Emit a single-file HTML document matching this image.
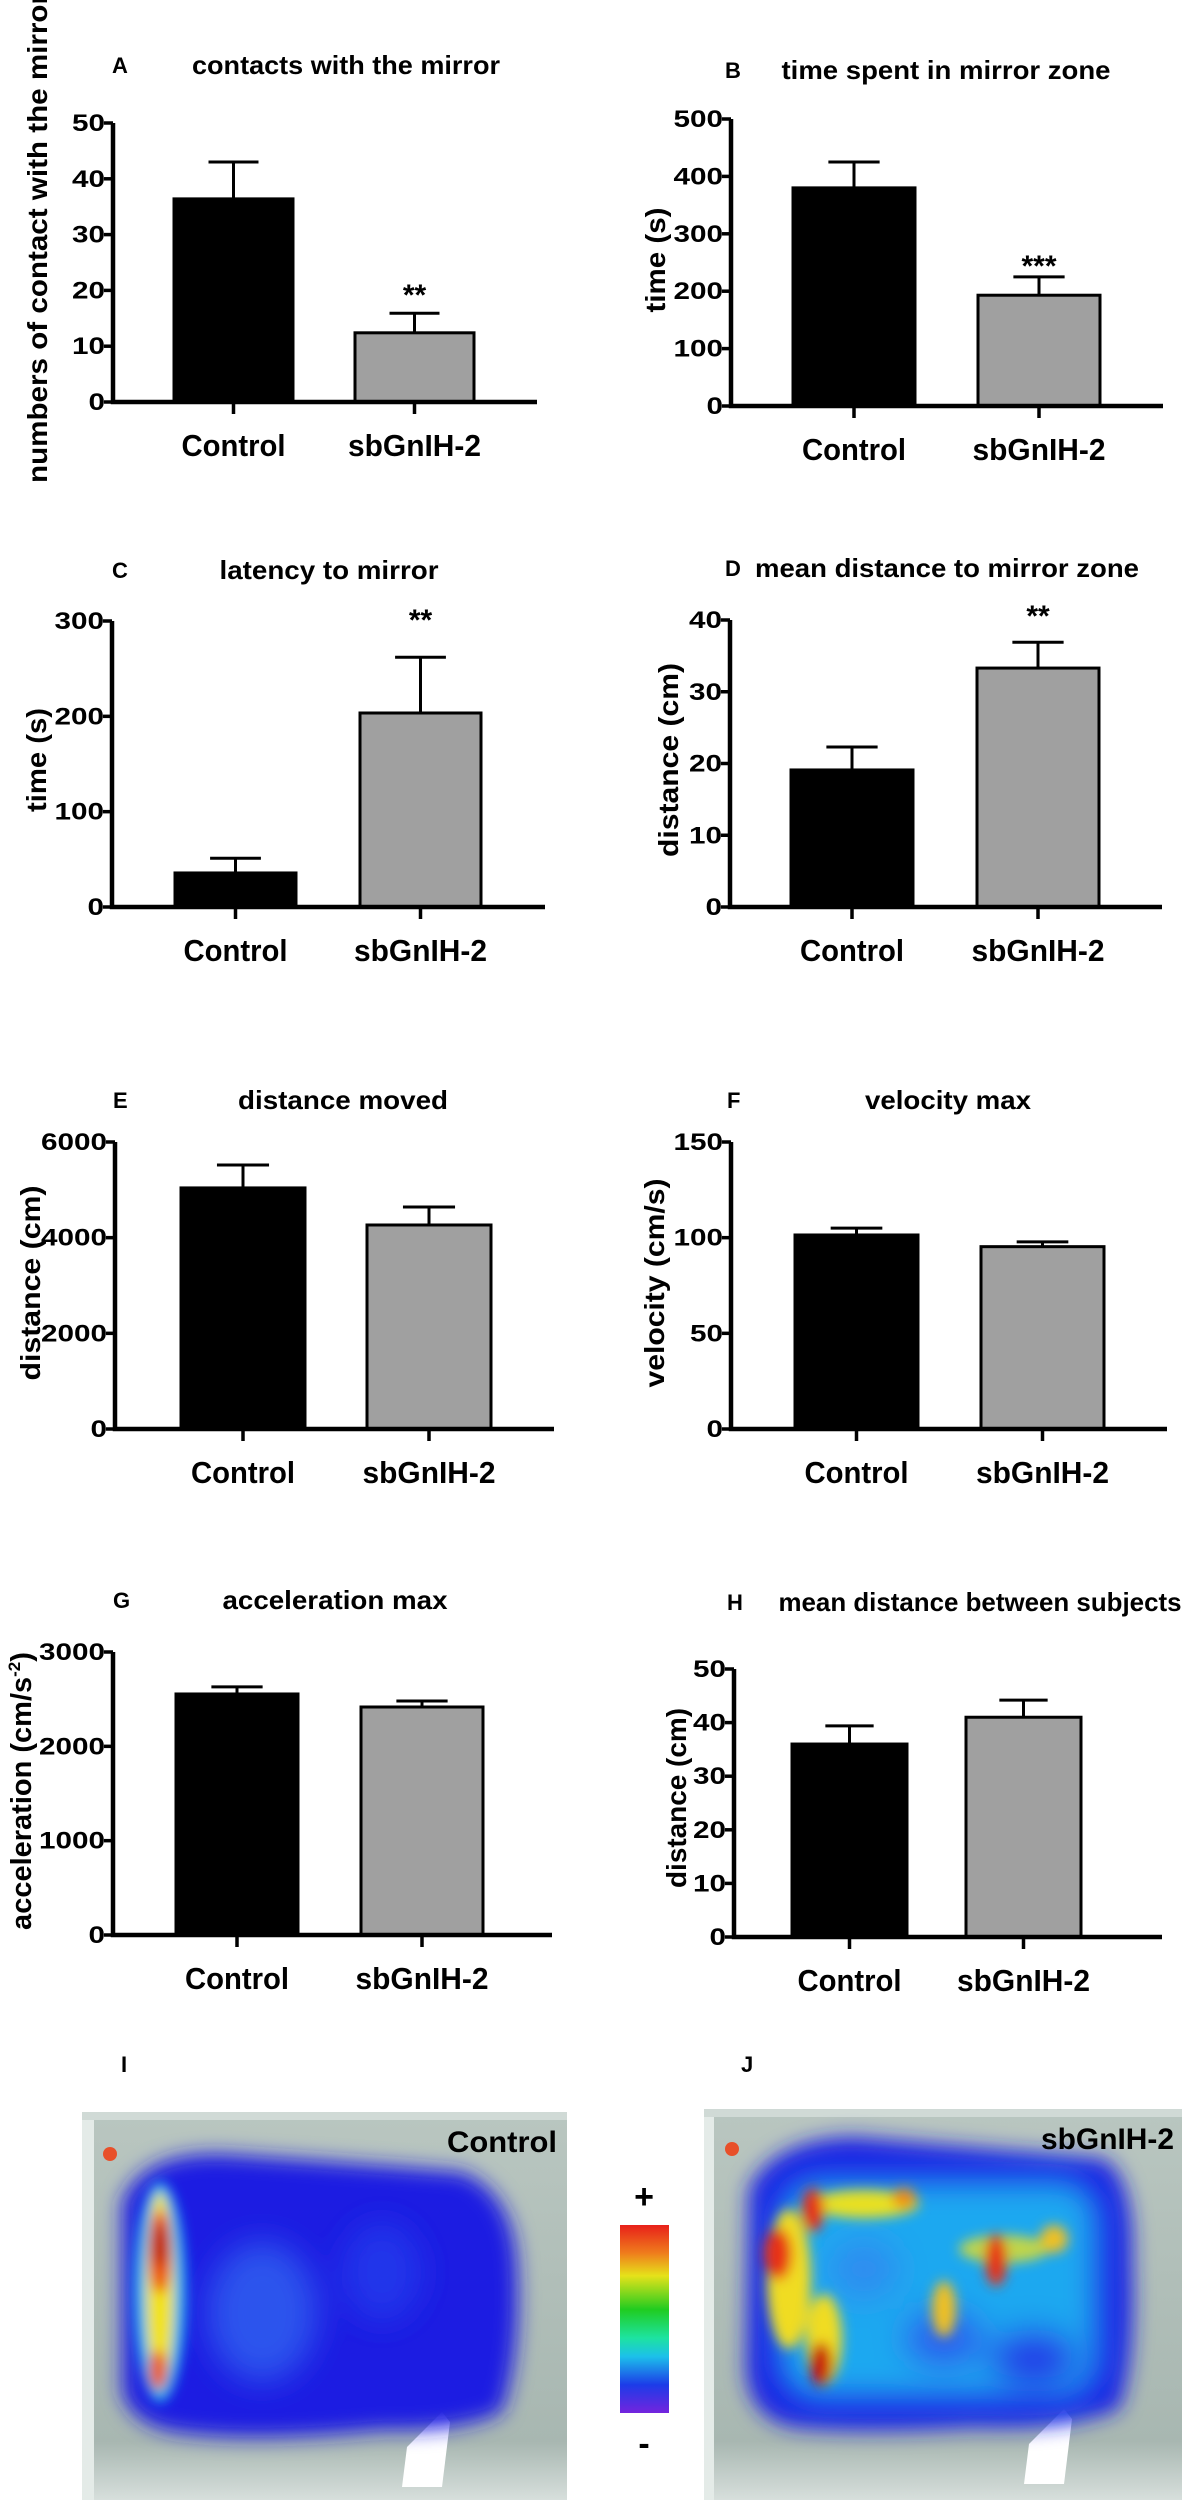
<!DOCTYPE html>
<html><head><meta charset="utf-8">
<style>
html,body{margin:0;padding:0;background:#fff;}
svg{display:block;}
text{font-family:"Liberation Sans",sans-serif;font-weight:bold;fill:#000;}
</style></head>
<body>
<svg id="fig" width="1182" height="2500" viewBox="0 0 1182 2500" xmlns="http://www.w3.org/2000/svg">
<defs>
  <linearGradient id="cbar" x1="0" y1="0" x2="0" y2="1">
    <stop offset="0" stop-color="#e8201a"/>
    <stop offset="0.15" stop-color="#ef7d1c"/>
    <stop offset="0.27" stop-color="#e6e21a"/>
    <stop offset="0.45" stop-color="#20cc20"/>
    <stop offset="0.6" stop-color="#1de3a0"/>
    <stop offset="0.7" stop-color="#1cc0ea"/>
    <stop offset="0.85" stop-color="#1c3ce8"/>
    <stop offset="1" stop-color="#7424de"/>
  </linearGradient>
  <filter id="b6" x="-50%" y="-50%" width="200%" height="200%"><feGaussianBlur stdDeviation="6"/></filter>
  <filter id="b10" x="-50%" y="-50%" width="200%" height="200%"><feGaussianBlur stdDeviation="10"/></filter>
  <filter id="b16" x="-50%" y="-50%" width="200%" height="200%"><feGaussianBlur stdDeviation="16"/></filter>
  <linearGradient id="tank" x1="0" y1="0" x2="0" y2="1">
    <stop offset="0" stop-color="#b9c6c0"/>
    <stop offset="0.85" stop-color="#a8b7b1"/>
    <stop offset="1" stop-color="#d7dfdc"/>
  </linearGradient>
</defs>
<g id="charts"></g>

<!-- Heatmap I -->
<g>
  <text x="121" y="2072" font-size="22">I</text>
  <svg x="82" y="2112" width="485" height="388" viewBox="0 0 485 388">
    <rect x="0" y="0" width="485" height="388" fill="url(#tank)"/>
    <rect x="0" y="0" width="12" height="388" fill="#e4ebe8"/>
    <rect x="0" y="0" width="485" height="8" fill="#d0dad6"/>
    <circle cx="28" cy="42" r="7" fill="#e8502a"/>
    <path d="M325 335 L360 300 L368 310 L360 375 L320 375 Z" fill="#ffffff"/>
    <g filter="url(#b10)">
      <path d="M40 90 Q60 40 140 42 Q260 50 380 60 Q430 80 435 150 Q440 240 420 300 Q380 320 300 318 Q180 330 110 322 Q50 318 40 280 Z" fill="#1b1fe2"/>
    </g>
    <g filter="url(#b16)">
      <ellipse cx="180" cy="200" rx="55" ry="70" fill="#2f62f0" opacity="0.8"/>
      <ellipse cx="300" cy="160" rx="40" ry="50" fill="#2340ee" opacity="0.7"/>
    </g>
    <g filter="url(#b6)">
      <ellipse cx="78" cy="180" rx="26" ry="110" fill="#24b8f0"/>
      <ellipse cx="78" cy="178" rx="14" ry="98" fill="#f2e21c"/>
      <ellipse cx="78" cy="140" rx="11" ry="42" fill="#ec4a14"/>
      <ellipse cx="78" cy="133" rx="7" ry="22" fill="#b80c0c"/>
      <ellipse cx="76" cy="258" rx="9" ry="20" fill="#ec5a14"/>
    </g>
    <text x="475" y="40" font-size="30" text-anchor="end" textLength="110" lengthAdjust="spacingAndGlyphs">Control</text>
  </svg>
</g>

<!-- Colorbar -->
<g>
  <text x="644" y="2208" font-size="34" text-anchor="middle" font-weight="normal">+</text>
  <rect x="620" y="2225" width="49" height="188" fill="url(#cbar)"/>
  <text x="644" y="2455" font-size="34" text-anchor="middle" font-weight="normal">-</text>
</g>

<!-- Heatmap J -->
<g>
  <text x="741" y="2072" font-size="22">J</text>
  <svg x="704" y="2109" width="478" height="391" viewBox="0 0 478 391">
    <rect x="0" y="0" width="478" height="391" fill="url(#tank)"/>
    <rect x="0" y="0" width="10" height="391" fill="#e4ebe8"/>
    <rect x="0" y="0" width="478" height="8" fill="#d0dad6"/>
    <circle cx="28" cy="40" r="7" fill="#e8502a"/>
    <path d="M325 335 L360 300 L368 310 L360 375 L320 375 Z" fill="#ffffff"/>
    <g filter="url(#b10)">
      <path d="M45 80 Q70 30 150 28 Q280 40 400 50 Q430 70 428 150 Q432 250 415 300 Q360 322 270 318 Q160 325 90 318 Q45 310 42 260 Z" fill="#1b22e4"/>
    </g>
    <g filter="url(#b16)">
      <rect x="75" y="70" width="320" height="220" rx="40" fill="#1ea8f0"/>
      <ellipse cx="240" cy="230" rx="40" ry="30" fill="#2a60ee"/>
      <ellipse cx="330" cy="250" rx="45" ry="30" fill="#2040e8"/>
      <ellipse cx="160" cy="160" rx="35" ry="30" fill="#2d8cf0"/>
    </g>
    <g filter="url(#b6)">
      <ellipse cx="85" cy="170" rx="22" ry="70" fill="#f0dc20"/>
      <ellipse cx="160" cy="95" rx="55" ry="14" fill="#e8e020"/>
      <ellipse cx="300" cy="140" rx="45" ry="14" fill="#e8e020" opacity="0.8"/>
      <ellipse cx="120" cy="230" rx="18" ry="45" fill="#f0dc20"/>
      <ellipse cx="240" cy="200" rx="12" ry="28" fill="#f0c020"/>
      <ellipse cx="350" cy="130" rx="14" ry="14" fill="#f0c020"/>
      <ellipse cx="74" cy="145" rx="14" ry="26" fill="#e83214"/>
      <ellipse cx="109" cy="101" rx="11" ry="22" fill="#e83214"/>
      <ellipse cx="117" cy="255" rx="11" ry="22" fill="#c81010"/>
      <ellipse cx="292" cy="151" rx="11" ry="26" fill="#e83214"/>
      <ellipse cx="200" cy="89" rx="12" ry="10" fill="#f08a18"/>
    </g>
    <text x="470" y="40" font-size="30" text-anchor="end" textLength="133" lengthAdjust="spacingAndGlyphs">sbGnIH-2</text>
  </svg>
</g>
</svg>

<script>
const categories = ["Control", "sbGnIH-2"];

const meansA = [36.4, 12.4];
const errsA = [6.6, 3.5];
const ticksA = [0, 10, 20, 30, 40, 50];

const meansB = [380, 193];
const errsB = [45, 32];
const ticksB = [0, 100, 200, 300, 400, 500];

const meansC = [35.7, 203.5];
const errsC = [15.5, 58.5];
const ticksC = [0, 100, 200, 300];

const meansD = [19.1, 33.3];
const errsD = [3.2, 3.6];
const ticksD = [0, 10, 20, 30, 40];

const meansE = [5040, 4265];
const errsE = [480, 375];
const ticksE = [0, 2000, 4000, 6000];

const meansF = [101.4, 95.3];
const errsF = [3.6, 2.5];
const ticksF = [0, 50, 100, 150];

const meansG = [2555, 2417];
const errsG = [75, 63];
const ticksG = [0, 1000, 2000, 3000];

const meansH = [36.0, 41.0];
const errsH = [3.4, 3.2];
const ticksH = [0, 10, 20, 30, 40, 50];

const stars = ["", "**"];
const starsB = ["", "***"];

// layout (positions only)
const layout = [
  {id:"a", letter:"A", title:"contacts with the mirror", tLen:308, tx:346, ty:74, lx:112, ax:113, axEnd:537, y0:402, yTop:123, barL:174, step:181, bw:119,
   means:meansA, errs:errsA, ticks:ticksA, ytitle:"numbers of contact with the mirror", ytx:47, yty:238, ytLen:490, sig:stars, sigY:[0,305]},
  {id:"b", letter:"B", title:"time spent in mirror zone", tLen:329, tx:946, ty:79, lx:725, ax:731, axEnd:1163, y0:406, yTop:119, barL:793, step:185, bw:122,
   means:meansB, errs:errsB, ticks:ticksB, ytitle:"time (s)", ytx:665, yty:260, ytLen:105, sig:starsB, sigY:[0,276]},
  {id:"c", letter:"C", title:"latency to mirror", tLen:219, tx:329, ty:579, lx:112, ax:112, axEnd:545, y0:907, yTop:621, barL:175, step:185, bw:121,
   means:meansC, errs:errsC, ticks:ticksC, ytitle:"time (s)", ytx:46, yty:760, ytLen:104, sig:stars, sigY:[0,630]},
  {id:"d", letter:"D", title:"mean distance to mirror zone", tLen:384, tx:947, ty:577, lx:725, ax:730, axEnd:1162, y0:907, yTop:620, barL:791, step:186, bw:122,
   means:meansD, errs:errsD, ticks:ticksD, ytitle:"distance (cm)", ytx:678, yty:760, ytLen:194, sig:stars, sigY:[0,626]},
  {id:"e", letter:"E", title:"distance moved", tLen:210, tx:343, ty:1109, lx:113, ax:115, axEnd:554, y0:1429, yTop:1142, barL:181, step:186, bw:124,
   means:meansE, errs:errsE, ticks:ticksE, ytitle:"distance (cm)", ytx:40, yty:1283, ytLen:195, sig:["",""], sigY:[0,0]},
  {id:"f", letter:"F", title:"velocity max", tLen:166, tx:948, ty:1109, lx:727, ax:731, axEnd:1167, y0:1429, yTop:1142, barL:795, step:186, bw:123,
   means:meansF, errs:errsF, ticks:ticksF, ytitle:"velocity (cm/s)", ytx:664, yty:1283, ytLen:209, sig:["",""], sigY:[0,0]},
  {id:"g", letter:"G", title:"acceleration max", tLen:225, tx:335, ty:1609, lx:113, ax:113, axEnd:552, y0:1935, yTop:1652, barL:176, step:185, bw:122,
   means:meansG, errs:errsG, ticks:ticksG, ytitle:null, ytx:31, yty:1791, ytLen:288, sig:["",""], sigY:[0,0]},
  {id:"h", letter:"H", title:"mean distance between subjects", tLen:403, tx:980, ty:1611, lx:727, ax:734, axEnd:1162, y0:1937, yTop:1669, barL:792, step:174, bw:115,
   means:meansH, errs:errsH, ticks:ticksH, ytitle:"distance (cm)", ytx:686, yty:1798, ytLen:180, sig:["",""], sigY:[0,0]}
];

const NS = "http://www.w3.org/2000/svg";
const root = document.getElementById("charts");
function mk(tag, attrs, parent){
  const e = document.createElementNS(NS, tag);
  for (const k in attrs) e.setAttribute(k, attrs[k]);
  parent.appendChild(e);
  return e;
}

layout.forEach(function(p){
  const g = mk("g", {}, root);
  
  
  const ymax = p.ticks[p.ticks.length - 1];
  const yScale = function(v){ return p.y0 - (v / ymax) * (p.y0 - p.yTop); };
  const xBar = function(i){ return p.barL + i * p.step; };

  const letter = mk("text", {x:p.lx, y:p.ty - 1, "font-size":22}, g);
  letter.textContent = p.letter;
  
  

  const title = mk("text", {x:p.tx, y:p.ty, "font-size":26, "text-anchor":"middle", textLength:p.tLen, lengthAdjust:"spacingAndGlyphs"}, g);
  title.textContent = p.title;
  
  

  // bars
  p.means.forEach(function(v, i){
    const x = xBar(i);
    const top = yScale(v);
    const bar = mk("rect", {x:x, y:top, width:p.bw, height:p.y0 - top,
      fill: i === 0 ? "#000" : "#a0a0a0", stroke:"#000", "stroke-width":3}, g);
    
    
    const cx = x + p.bw / 2;
    const ey = yScale(v + p.errs[i]);
    const eb = mk("path", {d:"M" + cx + " " + top + "V" + ey + "M" + (cx - p.bw * 0.21) + " " + ey + "H" + (cx + p.bw * 0.21),
      stroke:"#000", "stroke-width":3, fill:"none"}, g);
    
    
    const tk = mk("line", {x1:cx, x2:cx, y1:p.y0, y2:p.y0 + 12, stroke:"#000", "stroke-width":3.5}, g);
    
    
    const lab = mk("text", {x:cx, y:p.y0 + 54, "font-size":31, "text-anchor":"middle",
      textLength: i === 0 ? 104 : 133, lengthAdjust:"spacingAndGlyphs"}, g);
    lab.textContent = categories[i];
    
    
    if (p.sig[i]) {
      const s = mk("text", {x:cx, y:p.sigY[1], "font-size":30, "font-weight":"normal", "text-anchor":"middle"}, g);
      s.textContent = p.sig[i];
      
      
    }
  });

  // axes
  const axes = mk("path", {d:"M" + p.ax + " " + p.yTop + "V" + p.y0 + "H" + p.axEnd, stroke:"#000", "stroke-width":4.5, fill:"none"}, g);
  
  
  p.ticks.forEach(function(t){
    const y = yScale(t);
    const tl = mk("line", {x1:p.ax - 9, x2:p.ax, y1:y, y2:y, stroke:"#000", "stroke-width":3.5}, g);
    
    
    const s = String(t);
    const tt = mk("text", {x:p.ax - 8, y:y + 8, "font-size":24, "text-anchor":"end", textLength:s.length * 16.5, lengthAdjust:"spacingAndGlyphs"}, g);
    tt.textContent = s;
    
    
  });

  // y title
  let yt;
  if (p.ytitle) {
    yt = mk("text", {x:0, y:0, "font-size":28, "text-anchor":"middle", textLength:p.ytLen, lengthAdjust:"spacingAndGlyphs",
      transform:"translate(" + p.ytx + "," + p.yty + ") rotate(-90)"}, g);
    yt.textContent = p.ytitle;
  } else {
    yt = mk("text", {x:0, y:0, "font-size":29, "text-anchor":"middle",
      transform:"translate(" + p.ytx + "," + p.yty + ") rotate(-90)"}, g);
    const t1 = mk("tspan", {}, yt); t1.textContent = "acceleration (cm/s";
    const t2 = mk("tspan", {"font-size":17, dy:-11}, yt); t2.textContent = "-2";
    const t3 = mk("tspan", {dy:11}, yt); t3.textContent = ")";
  }
  
  
});
</script>
</body></html>
